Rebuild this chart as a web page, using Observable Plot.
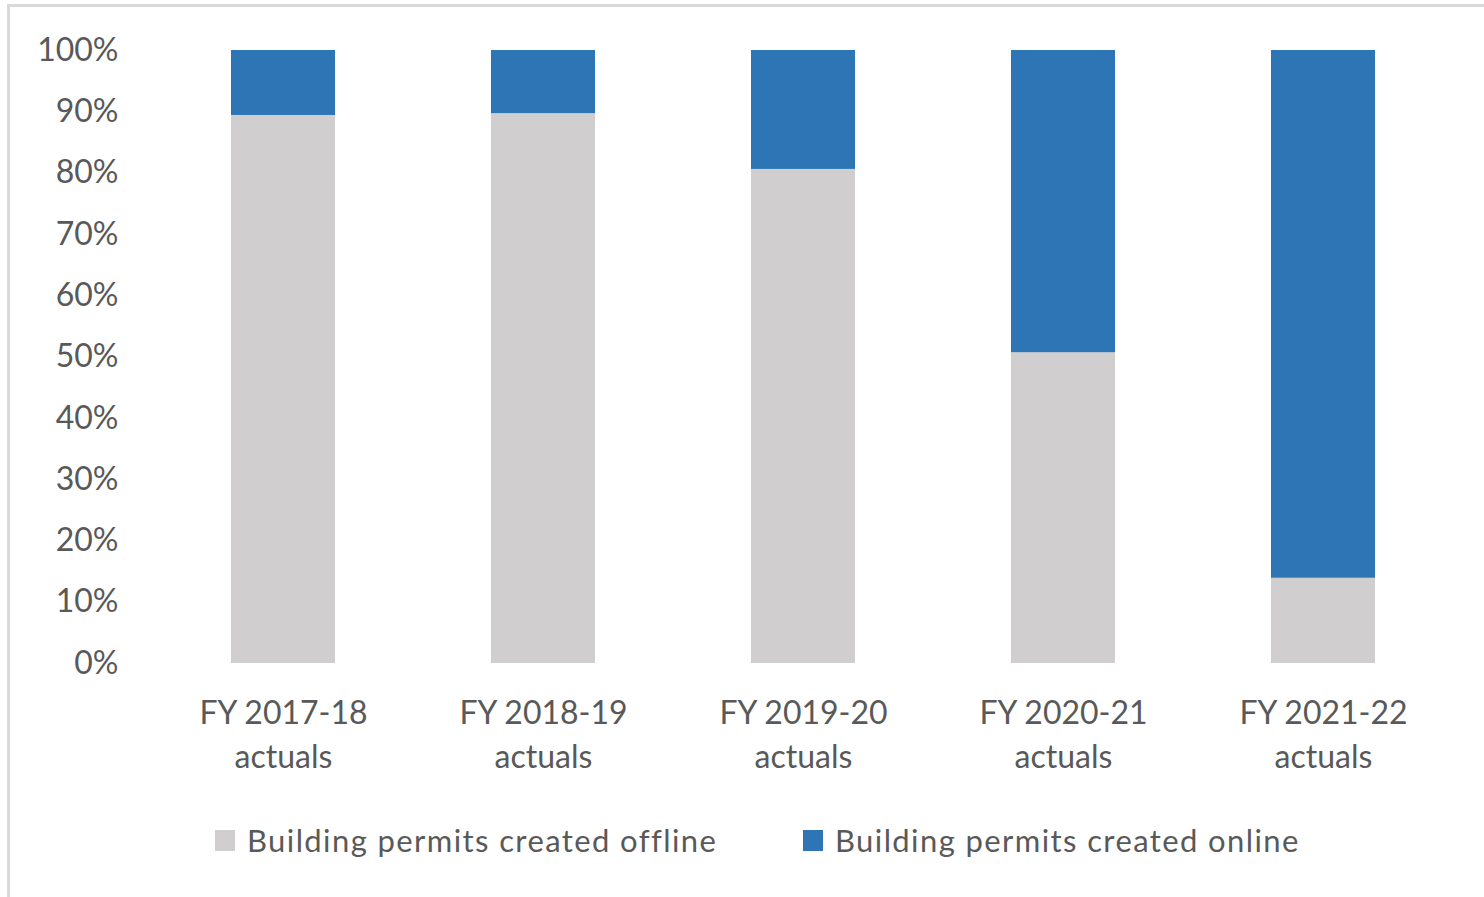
<!DOCTYPE html>
<html>
<head>
<meta charset="utf-8">
<script src="https://cdn.jsdelivr.net/npm/d3@7"></script>
<script src="https://cdn.jsdelivr.net/npm/@observablehq/plot@0.6"></script>
<style>
  html, body { margin: 0; padding: 0; background: #fff; }
  body { width: 1484px; height: 897px; position: relative; overflow: hidden; font-family: Lato, "Open Sans", sans-serif; }
  #frame { position: absolute; left: 7px; top: 4px; width: 1600px; height: 1000px; border-top: 3px solid #d9d9d9; border-left: 3px solid #d9d9d9; box-sizing: border-box; }
  #chart { position: absolute; left: 0; top: 0; }
  .leg { position: absolute; top: 820px; height: 40px; display: flex; align-items: center; font-size: 31px; letter-spacing: 1.4px; color: #595959; white-space: nowrap; }
  .sw { width: 20px; height: 21px; margin-right: 12px; }
</style>
</head>
<body>
<div id="frame"></div>
<div id="chart"></div>
<div class="leg" style="left:215px"><div class="sw" style="background:#D0CECE"></div><span>Building permits created offline</span></div>
<div class="leg" style="left:803px"><div class="sw" style="background:#2E75B6"></div><span>Building permits created online</span></div>
<script>
const years = ["FY 2017-18\nactuals", "FY 2018-19\nactuals", "FY 2019-20\nactuals", "FY 2020-21\nactuals", "FY 2021-22\nactuals"];
const seriesNames = ["Building permits created offline", "Building permits created online"];
const offline = [89.4, 89.7, 80.6, 50.7, 13.9];
const online = [10.6, 10.3, 19.4, 49.3, 86.1];
const yTicks = [0, 10, 20, 30, 40, 50, 60, 70, 80, 90, 100];
const colors = ["#D0CECE", "#2E75B6"];

const data = [];
years.forEach((y, i) => data.push({year: y, series: seriesNames[0], value: offline[i]}));
years.forEach((y, i) => data.push({year: y, series: seriesNames[1], value: online[i]}));

const H = 800;
const chart = Plot.plot({
  width: 1484,
  height: H,
  marginTop: 50,
  marginBottom: H - 663,
  marginLeft: 153,
  marginRight: 31,
  style: {fontFamily: "Lato, sans-serif", fontSize: "32px", color: "#595959", background: "transparent"},
  x: {domain: years, paddingInner: 0.6, paddingOuter: 0.3, label: null},
  y: {domain: [0, 100], label: null},
  color: {domain: seriesNames, range: colors},
  marks: [
    Plot.ruleY(yTicks, {x1: 154, x2: 1453, stroke: "#d9d9d9", strokeWidth: 2.5}),
    Plot.barY(data, {x: "year", y: "value", fill: "series"}),
    Plot.axisY({ticks: yTicks, tickFormat: d => d + "%", tickSize: 0, tickPadding: 35, fontSize: 32, label: null}),
    Plot.axisX({tickSize: 0, tickPadding: 30, fontSize: 32, lineHeight: 1.36, label: null})
  ]
});
document.getElementById("chart").appendChild(chart);
</script>
</body>
</html>
